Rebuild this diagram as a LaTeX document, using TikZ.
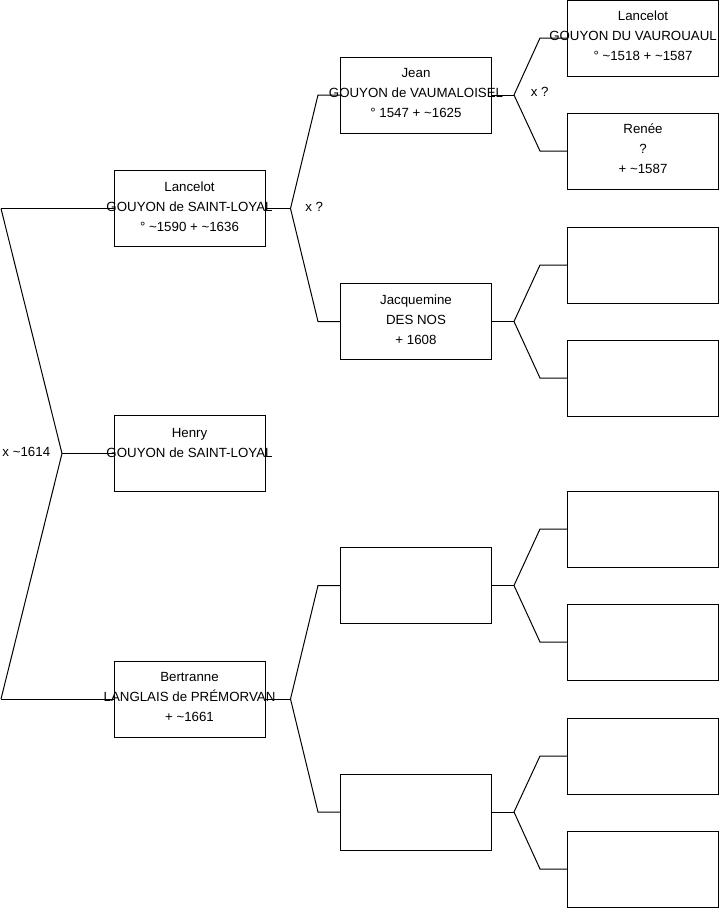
\documentclass[tikz,border=0pt]{standalone}
\usepackage{fontspec}
\setmainfont{Liberation Sans}
\usetikzlibrary{calc}
\newcommand{\ca}{\textasciitilde}
\tikzset{
  person/.style={draw, minimum width=151pt, minimum height=76pt, inner sep=0pt},
  who/.style={align=center, inner sep=0pt, yshift=2pt},
}

\begin{document}
\begin{tikzpicture}[x=1pt, y=-1pt, font=\fontsize{13.3}{20}\selectfont, line width=1pt]
    \useasboundingbox (0,0) rectangle (719,908);
    % first generation
    \node[person] (lancelot)  at (189.5,208.5) {};
    \node[person] (henry)     at (189.5,453.5) {};
    \node[person] (bertranne) at (189.5,699) {};
    % second generation
    \node[person] (jean)       at (416,95) {};
    \node[person] (jacquemine) at (416,321.5) {};
    \node[person] (bertF)      at (416,585.5) {};
    \node[person] (bertM)      at (416,812) {};
    % third generation
    \node[person] (vaurouault) at (643,38) {};
    \node[person] (renee)      at (643,151) {};
    \node[person] (jacqF)      at (643,265) {};
    \node[person] (jacqM)      at (643,378) {};
    \node[person] (bertFF)     at (643,529) {};
    \node[person] (bertFM)     at (643,642) {};
    \node[person] (bertMF)     at (643,756) {};
    \node[person] (bertMM)     at (643,869) {};
    % names
    \node[who] at (lancelot) {Lancelot\\GOUYON de SAINT-LOYAL\\° \ca1590 + \ca1636};
    \node[who, yshift=8.5pt] at (henry) {Henry\\GOUYON de SAINT-LOYAL};
    \node[who] at (bertranne) {Bertranne\\LANGLAIS de PRÉMORVAN\\+ \ca1661};
    \node[who] at (jean) {Jean\\GOUYON de VAUMALOISEL\\° 1547 + \ca1625};
    \node[who] at (jacquemine) {Jacquemine\\DES NOS\\+ 1608};
    \node[who] at (vaurouault) {Lancelot\\\hspace*{-20pt}GOUYON DU VAUROUAUL\\° \ca1518 + \ca1587};
    \node[who] at (renee) {Renée\\?\\+ \ca1587};
    % marriage of Lancelot and Bertranne
    \coordinate (root)  at (62,453.5);
    \coordinate (rootA) at (1,208.5);
    \coordinate (rootB) at (1,699);
    \draw (rootA) -- (lancelot.west);
    \draw (rootB) -- (bertranne.west);
    \draw (rootA) -- (root) -- (rootB);
    \draw (root) -- (henry.west);
    \node[anchor=east] (wed0) at ($(root)+(-8,-1.5)$) {x \ca1614};
    % parents, second generation
    \coordinate (fkL) at ($(lancelot.east)+(25,0)$);
    \draw (lancelot.east) -- (fkL);
    \draw (jean.west) -- ++(-22,0) -- (fkL) -- ($(jacquemine.west)+(-22,0)$) -- (jacquemine.west);
    \node[anchor=west] (wedL) at ($(fkL)+(11,-2)$) {x ?};
    \coordinate (fkB) at ($(bertranne.east)+(25,0)$);
    \draw (bertranne.east) -- (fkB);
    \draw (bertF.west) -- ++(-22,0) -- (fkB) -- ($(bertM.west)+(-22,0)$) -- (bertM.west);
    % parents, third generation
    \coordinate (fkJ) at ($(jean.east)+(22,0)$);
    \draw (jean.east) -- (fkJ);
    \draw (vaurouault.west) -- ++(-27,0) -- (fkJ) -- ($(renee.west)+(-27,0)$) -- (renee.west);
    \node[anchor=west] (wedJ) at ($(fkJ)+(13,-3)$) {x ?};
    \coordinate (fkQ) at ($(jacquemine.east)+(22,0)$);
    \draw (jacquemine.east) -- (fkQ);
    \draw (jacqF.west) -- ++(-27,0) -- (fkQ) -- ($(jacqM.west)+(-27,0)$) -- (jacqM.west);
    \coordinate (fkF) at ($(bertF.east)+(22,0)$);
    \draw (bertF.east) -- (fkF);
    \draw (bertFF.west) -- ++(-27,0) -- (fkF) -- ($(bertFM.west)+(-27,0)$) -- (bertFM.west);
    \coordinate (fkM) at ($(bertM.east)+(22,0)$);
    \draw (bertM.east) -- (fkM);
    \draw (bertMF.west) -- ++(-27,0) -- (fkM) -- ($(bertMM.west)+(-27,0)$) -- (bertMM.west);
  \end{tikzpicture}
\end{document}
